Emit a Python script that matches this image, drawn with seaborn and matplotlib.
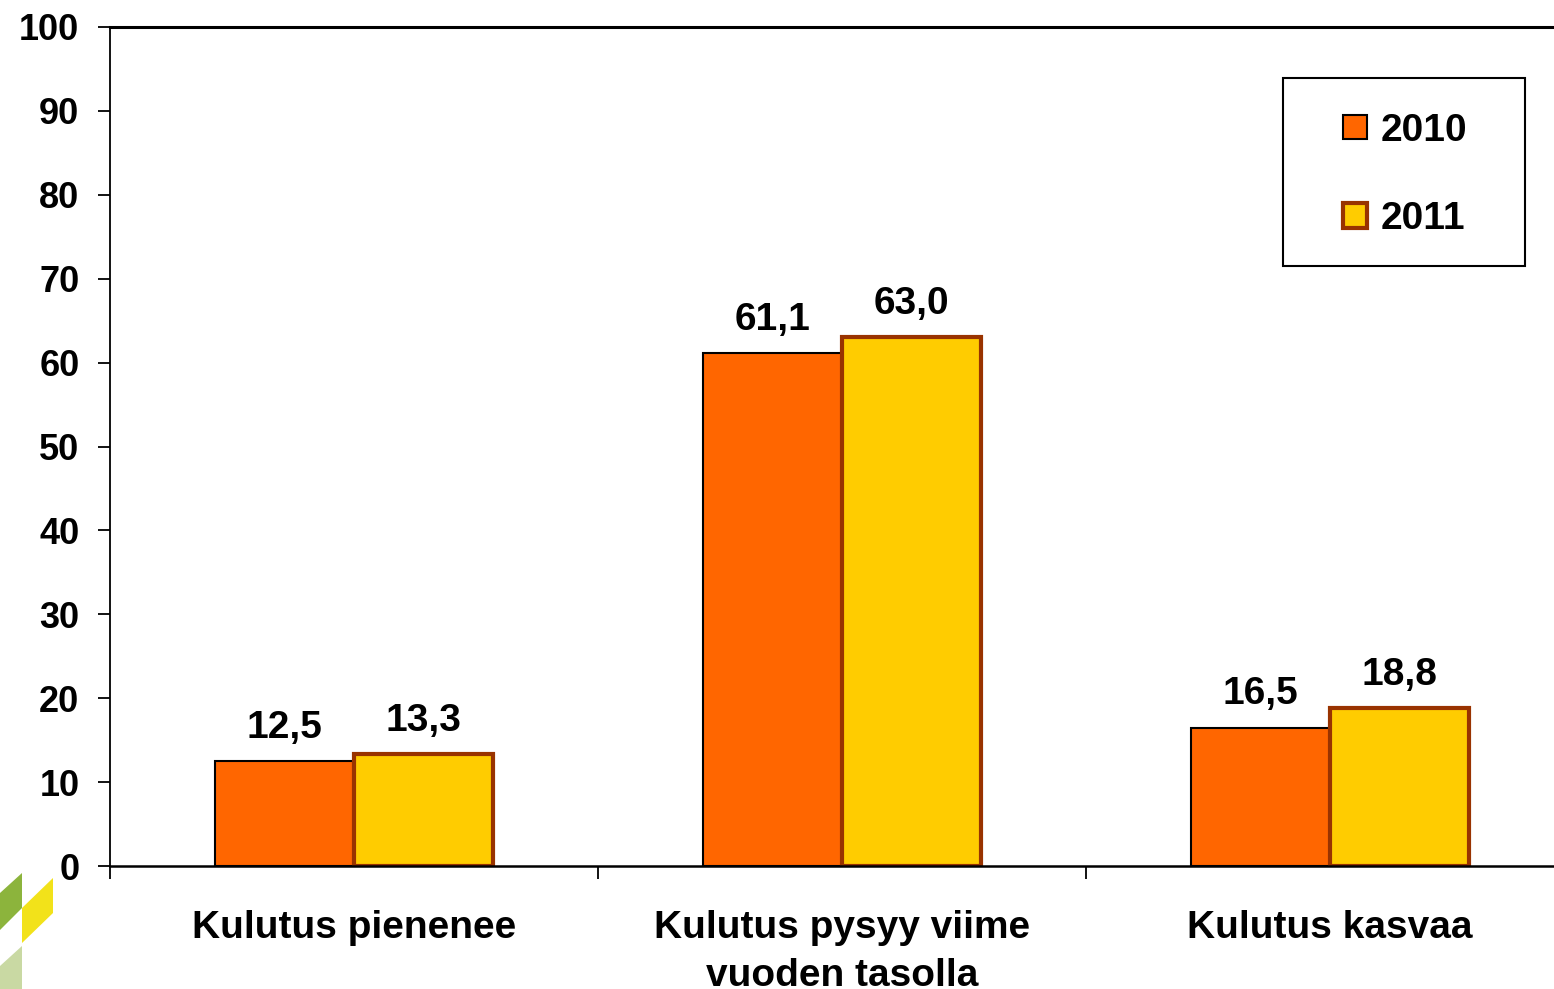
import pandas as pd
import matplotlib
matplotlib.use('Agg')
import matplotlib.pyplot as plt
from matplotlib.patches import Patch, Polygon, Rectangle
import seaborn as sns

# data
categories = ['Kulutus pienenee', 'Kulutus pysyy viime\nvuoden tasolla', 'Kulutus kasvaa']
years = ['2010', '2011']
values_2010 = [12.5, 61.1, 16.5]
values_2011 = [13.3, 63.0, 18.8]
bar_colors = ['#FF6600', '#FFCC00']
edge_colors = ['#000000', '#993300']
edge_widths = [1.5, 3.0]
y_ticks = list(range(0, 101, 10))

df = pd.DataFrame({
    'kategoria': categories * 2,
    'vuosi': [years[0]] * len(categories) + [years[1]] * len(categories),
    'arvo': values_2010 + values_2011,
})

sns.set_style('white')
plt.rcParams['font.family'] = ['Liberation Sans', 'DejaVu Sans']
plt.rcParams['font.weight'] = 'bold'
plt.rcParams['text.color'] = 'black'
plt.rcParams['xtick.color'] = 'black'
plt.rcParams['ytick.color'] = 'black'

W, H = 1554, 989
fig = plt.figure(figsize=(W / 100, H / 100), dpi=100)
ax = fig.add_axes([110 / W, 1 - 866 / H, 1464 / W, 839 / H])

sns.barplot(data=df, x='kategoria', y='arvo', hue='vuosi', order=categories,
            hue_order=years, palette=bar_colors, saturation=1, width=0.57,
            gap=0, legend=False, ax=ax)

for container, ec, lw, vals in zip(ax.containers, edge_colors, edge_widths,
                                   [values_2010, values_2011]):
    for bar in container:
        bar.set_edgecolor(ec)
        bar.set_linewidth(lw)
    labels = [f'{v:.1f}'.replace('.', ',') for v in vals]
    ax.bar_label(container, labels=labels, padding=11, fontsize=28,
                 fontweight='bold', color='black')

ax.set_xlim(-0.5, 2.5)
ax.set_ylim(0, 100)
ax.set_yticks(y_ticks)
ax.set_xticks([-0.5, 0.5, 1.5, 2.5], minor=True)
ax.set_xticks(range(len(categories)))
ax.set_xticklabels(categories, fontsize=28, fontweight='bold', linespacing=1.4)
ax.tick_params(axis='x', which='major', bottom=True, length=0, pad=32)
ax.tick_params(axis='x', which='minor', bottom=True, length=9, width=1.3,
               direction='out', color='black')
ax.tick_params(axis='y', left=True, length=9, width=1.3, direction='out',
               color='black', pad=13, labelsize=26)
for lab in ax.get_yticklabels():
    lab.set_fontweight('bold')
ax.set_xlabel('')
ax.set_ylabel('')

ax.spines['right'].set_visible(False)
ax.spines['top'].set_linewidth(2.2)
ax.spines['left'].set_linewidth(1.3)
ax.spines['bottom'].set_linewidth(1.8)
for s in ['top', 'left', 'bottom']:
    ax.spines[s].set_color('black')

# legend with its own box
fig.add_artist(Rectangle((1283 / W, 1 - 266 / H), 242 / W, 188 / H,
                         transform=fig.transFigure, fill=False,
                         edgecolor='black', linewidth=1.5))
handles = [Patch(facecolor=c, edgecolor=e, linewidth=lw)
           for c, e, lw in zip(bar_colors, edge_colors, edge_widths)]
fig.legend(handles, years, loc='center', bbox_to_anchor=(1405 / W, 1 - 175 / H),
           frameon=False, handlelength=0.6, handleheight=0.6,
           handletextpad=0.35, labelspacing=1.35, labelcolor='black',
           prop={'weight': 'bold', 'size': 28})

# logo corner
def px(points):
    return [(x / W, 1 - y / H) for x, y in points]

logo = [
    ([(0, 893), (22, 873), (22, 908), (0, 930)], '#8CB43C'),
    ([(22, 908), (53, 878), (53, 913), (22, 943)], '#F2E21A'),
    ([(0, 966), (22, 946), (22, 989), (0, 989)], '#C9D9A3'),
]
for pts, col in logo:
    fig.add_artist(Polygon(px(pts), closed=True, transform=fig.transFigure,
                           facecolor=col, edgecolor='none'))

fig.savefig('out.png', dpi=100)
